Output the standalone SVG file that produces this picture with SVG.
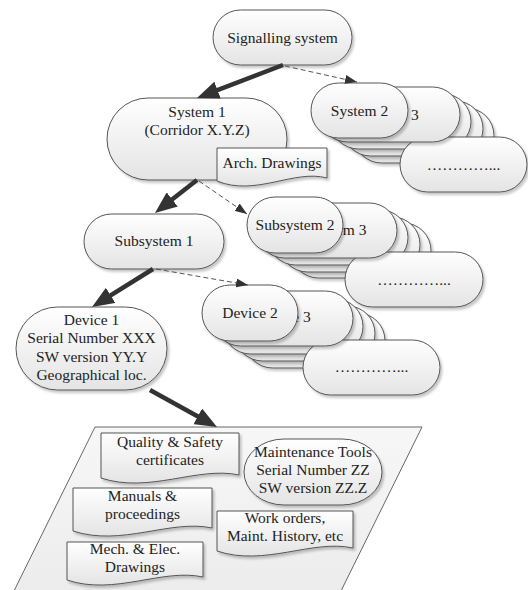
<svg xmlns="http://www.w3.org/2000/svg" width="528" height="590" viewBox="0 0 528 590">
  <defs>
    <linearGradient id="fillG" x1="0" y1="0" x2="0" y2="1">
      <stop offset="0" stop-color="#ffffff"/>
      <stop offset="1" stop-color="#e4e4e4"/>
    </linearGradient>
    <linearGradient id="areaG" x1="0" y1="0" x2="0" y2="1">
      <stop offset="0" stop-color="#f7f7f7"/>
      <stop offset="1" stop-color="#ececec"/>
    </linearGradient>
    <filter id="sh" x="-10%" y="-10%" width="130%" height="140%">
      <feDropShadow dx="2" dy="2.5" stdDeviation="1.2" flood-color="#000" flood-opacity="0.22"/>
    </filter>
    <marker id="big" markerUnits="userSpaceOnUse" viewBox="0 0 22 18" markerWidth="22" markerHeight="18" refX="10" refY="9" orient="auto">
      <path d="M0,0 L22,9 L0,18 z" fill="#333"/>
    </marker>
    <marker id="small" markerUnits="userSpaceOnUse" viewBox="0 0 12 9" markerWidth="12" markerHeight="9" refX="12" refY="4.5" orient="auto">
      <path d="M0,0 L12,4.5 L0,9 z" fill="#333"/>
    </marker>
  </defs>
  <style>
    .shape { fill: url(#fillG); stroke: #555; stroke-width: 1; filter: url(#sh); }
    .area { fill: url(#areaG); stroke: #666; stroke-width: 1; }
    text { font-family: "Liberation Serif", "Times New Roman", serif; font-size: 15.5px; fill: #222; text-anchor: middle; }
    .thick { stroke: #333; stroke-width: 4.5; fill: none; marker-end: url(#big); }
    .dash { stroke: #555; stroke-width: 1; stroke-dasharray: 5 3; fill: none; marker-end: url(#small); }
  </style>

  <!-- top level -->
  <g id="signalling">
    <rect class="shape" x="213" y="10" width="139" height="55" rx="27.5"/>
    <text x="282.5" y="43">Signalling system</text>
  </g>

  <!-- system stack (back to front) -->
  <g id="system5"><rect class="shape" x="354" y="108" width="140" height="55" rx="27.5"/></g>
  <g id="system4"><rect class="shape" x="343" y="101" width="140" height="55" rx="27.5"/></g>
  <g id="system3b"><rect class="shape" x="331" y="94" width="140" height="55" rx="27.5"/></g>
  <g id="system-more">
    <rect class="shape" x="400" y="137" width="127" height="55" rx="27.5"/>
    <text x="463.5" y="170">…………...</text>
  </g>
  <g id="system3">
    <rect class="shape" x="320" y="87" width="140" height="55" rx="27.5"/>
    <text x="390" y="119.5">System 3</text>
  </g>
  <g id="system2">
    <rect class="shape" x="311" y="83" width="97" height="55" rx="27.5"/>
    <text x="359.5" y="115.5">System 2</text>
  </g>

  <g id="system1">
    <rect class="shape" x="107" y="98" width="180" height="82" rx="41"/>
    <text x="197" y="117">System 1</text>
    <text x="197" y="135">(Corridor X.Y.Z)</text>
  </g>
  <g id="arch-drawings">
    <path class="shape" d="M217,148 H327 V178 C294,169 255.5,197 217,181 Z"/>
    <text x="272" y="168">Arch. Drawings</text>
  </g>

  <!-- subsystem stack (back to front) -->
  <g id="subsystem5"><rect class="shape" x="291" y="223" width="140" height="55" rx="27.5"/></g>
  <g id="subsystem4"><rect class="shape" x="280" y="217" width="140" height="55" rx="27.5"/></g>
  <g id="subsystem3b"><rect class="shape" x="268" y="210" width="140" height="55" rx="27.5"/></g>
  <g id="subsystem-more">
    <rect class="shape" x="345" y="252" width="138" height="55" rx="27.5"/>
    <text x="414" y="285">…………...</text>
  </g>
  <g id="subsystem3">
    <rect class="shape" x="257" y="203" width="140" height="55" rx="27.5"/>
    <text x="327" y="235">Subsystem 3</text>
  </g>
  <g id="subsystem2">
    <rect class="shape" x="247" y="197" width="96" height="56" rx="28"/>
    <text x="295" y="229.5">Subsystem 2</text>
  </g>

  <g id="subsystem1">
    <rect class="shape" x="84" y="214" width="140" height="55" rx="27.5"/>
    <text x="154" y="246">Subsystem 1</text>
  </g>

  <!-- device stack (back to front) -->
  <g id="device5"><rect class="shape" x="245" y="313" width="140" height="55" rx="27.5"/></g>
  <g id="device4"><rect class="shape" x="235" y="306" width="140" height="55" rx="27.5"/></g>
  <g id="device3b"><rect class="shape" x="223" y="299" width="140" height="55" rx="27.5"/></g>
  <g id="device-more">
    <rect class="shape" x="303" y="340" width="137" height="55" rx="27.5"/>
    <text x="371.5" y="372">…………...</text>
  </g>
  <g id="device3">
    <rect class="shape" x="213" y="291" width="140" height="55" rx="27.5"/>
    <text x="283" y="322">Device 3</text>
  </g>
  <g id="device2">
    <rect class="shape" x="202" y="285" width="96" height="56" rx="28"/>
    <text x="250" y="317.5">Device 2</text>
  </g>

  <g id="device1">
    <rect class="shape" x="16" y="307" width="151" height="83" rx="41.5"/>
    <text x="91.5" y="325">Device 1</text>
    <text x="91.5" y="343">Serial Number XXX</text>
    <text x="91.5" y="361.5">SW version YY.Y</text>
    <text x="91.5" y="379.5">Geographical loc.</text>
  </g>

  <!-- documentation area -->
  <g id="device-records">
    <polygon class="area" points="95,427 422,427 339,595 12,595"/>
  </g>
  <g id="quality-certificates">
    <path class="shape" d="M101,433 H239 V475 C197.6,466 149.3,494 101,478 Z"/>
    <text x="170" y="447">Quality &amp; Safety</text>
    <text x="170" y="465">certificates</text>
  </g>
  <g id="maintenance-tools">
    <rect class="shape" x="244" y="439" width="138" height="66" rx="40" ry="33"/>
    <text x="313" y="457">Maintenance Tools</text>
    <text x="313" y="475">Serial Number ZZ</text>
    <text x="313" y="493">SW version ZZ.Z</text>
  </g>
  <g id="manuals">
    <path class="shape" d="M73,488 H212 V528 C170.3,519 121.65,547 73,531 Z"/>
    <text x="142.5" y="501">Manuals &amp;</text>
    <text x="142.5" y="519">proceedings</text>
  </g>
  <g id="work-orders">
    <path class="shape" d="M217,511 H353 V548 C312.2,539 264.6,567 217,551 Z"/>
    <text x="285" y="523">Work orders,</text>
    <text x="285" y="541">Maint. History, etc</text>
  </g>
  <g id="mech-elec-drawings">
    <path class="shape" d="M67,542 H203 V577 C162.2,568 114.6,596 67,580 Z"/>
    <text x="135" y="554">Mech. &amp; Elec.</text>
    <text x="135" y="572">Drawings</text>
  </g>

  <!-- connectors -->
  <g id="connectors">
    <path class="thick" d="M283,65 L208.2,93.7"/>
    <path class="dash" d="M285,66 L357,82"/>
    <path class="thick" d="M197,180 L164.4,205.6"/>
    <path class="dash" d="M199,181 L247,214"/>
    <path class="thick" d="M153,269 L102.2,300.7"/>
    <path class="dash" d="M156,269 L248,285"/>
    <path class="thick" d="M150,390 L206.5,421.2"/>
  </g>
</svg>
